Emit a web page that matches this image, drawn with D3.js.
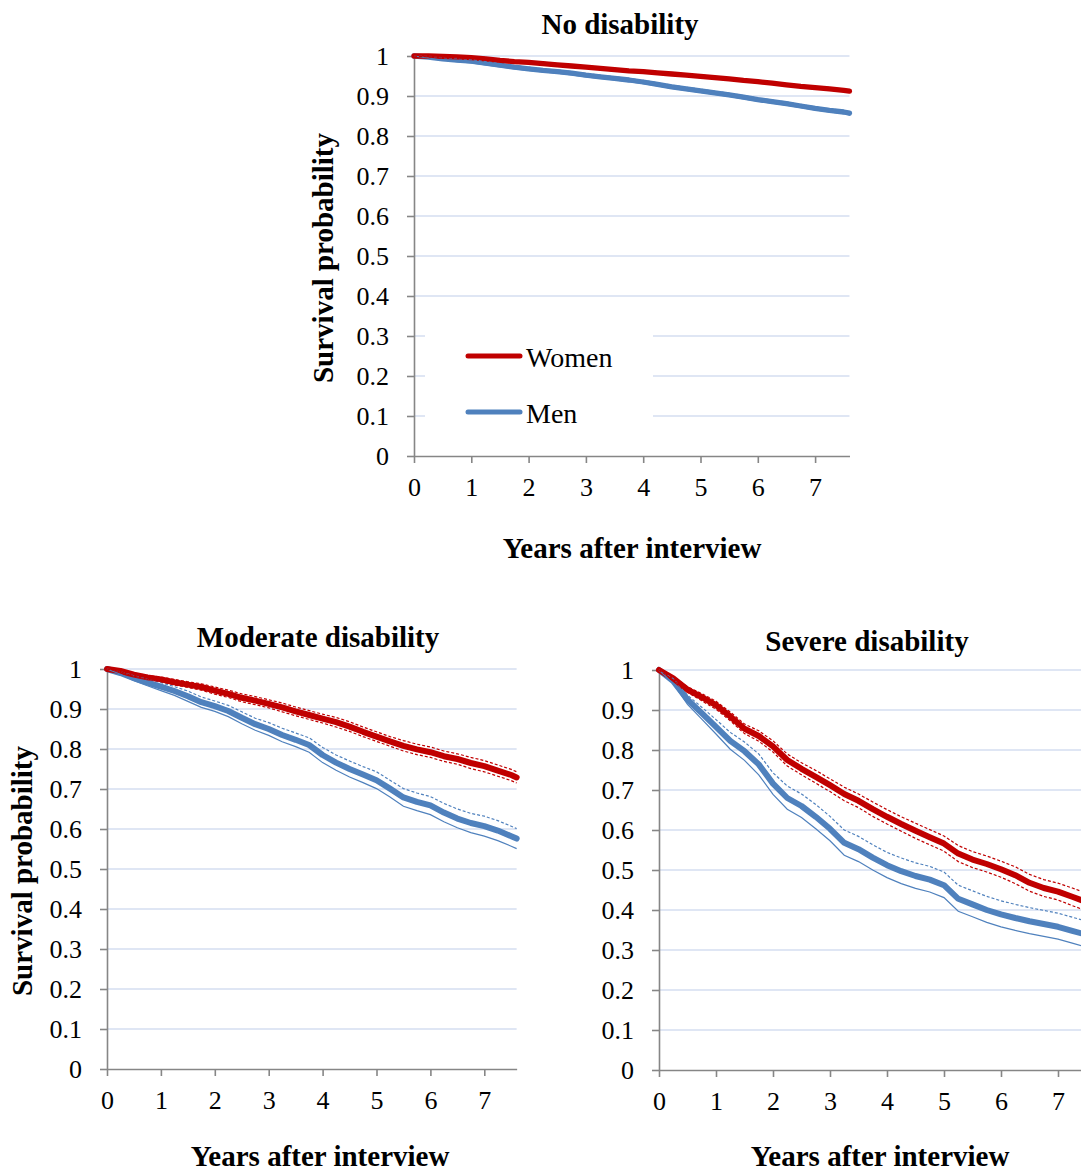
<!DOCTYPE html>
<html>
<head>
<meta charset="utf-8">
<script src="https://cdn.jsdelivr.net/npm/d3@7/dist/d3.min.js"></script>
<style>
  html, body { margin: 0; padding: 0; background: #fff; overflow: hidden; }
  svg { display: block; }
</style>
</head>
<body>
<svg id="chart" width="1081" height="1174"></svg>
<script>
// Follow-up time (years after interview) shared by every curve
const years = [0, 0.25, 0.5, 0.75, 1, 1.25, 1.5, 1.75, 2, 2.25, 2.5, 2.75, 3, 3.25, 3.5, 3.75,
               4, 4.25, 4.5, 4.75, 5, 5.25, 5.5, 5.75, 6, 6.25, 6.5, 6.75, 7, 7.25, 7.5, 7.6];

const yTicks = [0, 0.1, 0.2, 0.3, 0.4, 0.5, 0.6, 0.7, 0.8, 0.9, 1];
const yTickLabels = ["0", "0.1", "0.2", "0.3", "0.4", "0.5", "0.6", "0.7", "0.8", "0.9", "1"];
const xTicks = [0, 1, 2, 3, 4, 5, 6, 7];
const xTickLabels = ["0", "1", "2", "3", "4", "5", "6", "7"];

const seriesNames = ["Women", "Men"];

// No disability: survival estimate with lower / upper confidence bounds
const noDisWomen   = [1, 1, 0.999, 0.998, 0.996, 0.993, 0.989, 0.986, 0.984, 0.981, 0.978, 0.975, 0.972, 0.969, 0.966, 0.963, 0.961, 0.958, 0.955, 0.952, 0.949, 0.946, 0.943, 0.939, 0.936, 0.932, 0.928, 0.924, 0.921, 0.918, 0.914, 0.912];
const noDisWomenHi = [1, 1, 1, 1, 0.999, 0.996, 0.992, 0.989, 0.987, 0.984, 0.981, 0.978, 0.975, 0.972, 0.969, 0.966, 0.964, 0.961, 0.958, 0.955, 0.952, 0.949, 0.946, 0.942, 0.939, 0.935, 0.931, 0.927, 0.924, 0.921, 0.917, 0.915];
const noDisWomenLo = [1, 0.998, 0.997, 0.995, 0.993, 0.990, 0.986, 0.983, 0.981, 0.978, 0.975, 0.972, 0.969, 0.966, 0.963, 0.960, 0.958, 0.955, 0.952, 0.949, 0.946, 0.943, 0.940, 0.936, 0.933, 0.929, 0.925, 0.921, 0.918, 0.915, 0.911, 0.909];
const noDisMen     = [1, 0.997, 0.993, 0.990, 0.987, 0.982, 0.977, 0.972, 0.968, 0.964, 0.961, 0.957, 0.952, 0.948, 0.944, 0.940, 0.935, 0.929, 0.923, 0.918, 0.913, 0.908, 0.903, 0.897, 0.891, 0.886, 0.881, 0.875, 0.869, 0.864, 0.860, 0.857];
const noDisMenHi   = [1, 0.999, 0.996, 0.994, 0.991, 0.986, 0.981, 0.976, 0.972, 0.968, 0.965, 0.961, 0.956, 0.952, 0.948, 0.944, 0.939, 0.933, 0.927, 0.922, 0.917, 0.912, 0.907, 0.901, 0.895, 0.890, 0.885, 0.879, 0.873, 0.868, 0.864, 0.861];
const noDisMenLo   = [1, 0.995, 0.990, 0.986, 0.983, 0.978, 0.973, 0.968, 0.964, 0.960, 0.957, 0.953, 0.948, 0.944, 0.940, 0.936, 0.931, 0.925, 0.919, 0.914, 0.909, 0.904, 0.899, 0.893, 0.887, 0.882, 0.877, 0.871, 0.865, 0.860, 0.856, 0.853];

// Moderate disability
const modWomen   = [1, 0.995, 0.986, 0.979, 0.974, 0.967, 0.961, 0.955, 0.946, 0.938, 0.928, 0.921, 0.913, 0.904, 0.894, 0.885, 0.876, 0.867, 0.856, 0.843, 0.831, 0.819, 0.808, 0.799, 0.792, 0.782, 0.775, 0.765, 0.757, 0.746, 0.735, 0.729];
const modWomenHi = [1, 0.997, 0.990, 0.984, 0.980, 0.974, 0.968, 0.963, 0.955, 0.947, 0.938, 0.931, 0.923, 0.915, 0.905, 0.896, 0.887, 0.879, 0.868, 0.855, 0.843, 0.831, 0.821, 0.812, 0.805, 0.795, 0.788, 0.779, 0.771, 0.760, 0.749, 0.743];
const modWomenLo = [1, 0.993, 0.982, 0.974, 0.968, 0.960, 0.954, 0.947, 0.937, 0.929, 0.918, 0.911, 0.903, 0.893, 0.883, 0.874, 0.865, 0.855, 0.844, 0.831, 0.819, 0.807, 0.795, 0.786, 0.779, 0.769, 0.762, 0.751, 0.743, 0.732, 0.721, 0.715];
const modMen     = [1, 0.990, 0.977, 0.966, 0.956, 0.945, 0.932, 0.917, 0.907, 0.895, 0.878, 0.862, 0.850, 0.835, 0.823, 0.810, 0.785, 0.766, 0.750, 0.736, 0.722, 0.701, 0.679, 0.668, 0.659, 0.641, 0.626, 0.615, 0.607, 0.596, 0.582, 0.576];
const modMenHi   = [1, 0.993, 0.983, 0.974, 0.966, 0.956, 0.945, 0.930, 0.920, 0.909, 0.893, 0.877, 0.866, 0.852, 0.840, 0.828, 0.804, 0.785, 0.770, 0.756, 0.743, 0.722, 0.701, 0.690, 0.681, 0.664, 0.650, 0.639, 0.632, 0.621, 0.607, 0.601];
const modMenLo   = [1, 0.987, 0.971, 0.958, 0.946, 0.934, 0.919, 0.904, 0.894, 0.881, 0.863, 0.847, 0.834, 0.818, 0.806, 0.792, 0.766, 0.747, 0.730, 0.716, 0.701, 0.680, 0.657, 0.646, 0.636, 0.618, 0.603, 0.591, 0.582, 0.571, 0.557, 0.551];

// Severe disability
const sevWomen   = [1, 0.979, 0.951, 0.932, 0.912, 0.884, 0.853, 0.835, 0.809, 0.775, 0.753, 0.733, 0.712, 0.690, 0.673, 0.652, 0.633, 0.615, 0.598, 0.582, 0.566, 0.541, 0.526, 0.515, 0.502, 0.487, 0.468, 0.455, 0.446, 0.433, 0.420, 0.415];
const sevWomenHi = [1, 0.983, 0.958, 0.941, 0.922, 0.895, 0.865, 0.848, 0.823, 0.790, 0.768, 0.749, 0.728, 0.707, 0.690, 0.670, 0.651, 0.633, 0.617, 0.601, 0.585, 0.561, 0.546, 0.535, 0.522, 0.508, 0.489, 0.476, 0.467, 0.455, 0.442, 0.437];
const sevWomenLo = [1, 0.975, 0.944, 0.923, 0.902, 0.873, 0.841, 0.822, 0.795, 0.760, 0.738, 0.717, 0.696, 0.673, 0.656, 0.634, 0.615, 0.597, 0.579, 0.563, 0.547, 0.521, 0.506, 0.495, 0.482, 0.466, 0.447, 0.434, 0.425, 0.411, 0.398, 0.393];
const sevMen     = [1, 0.972, 0.926, 0.892, 0.858, 0.823, 0.797, 0.764, 0.716, 0.680, 0.660, 0.633, 0.603, 0.568, 0.552, 0.531, 0.512, 0.497, 0.485, 0.476, 0.462, 0.428, 0.414, 0.400, 0.389, 0.380, 0.372, 0.365, 0.358, 0.348, 0.338, 0.334];
const sevMenHi   = [1, 0.978, 0.937, 0.907, 0.876, 0.844, 0.820, 0.790, 0.743, 0.710, 0.690, 0.664, 0.634, 0.600, 0.584, 0.563, 0.544, 0.530, 0.518, 0.509, 0.495, 0.462, 0.448, 0.434, 0.423, 0.414, 0.406, 0.399, 0.392, 0.382, 0.372, 0.368];
const sevMenLo   = [1, 0.966, 0.914, 0.877, 0.840, 0.802, 0.774, 0.738, 0.689, 0.652, 0.631, 0.603, 0.573, 0.537, 0.521, 0.500, 0.481, 0.466, 0.454, 0.445, 0.431, 0.397, 0.383, 0.369, 0.358, 0.349, 0.341, 0.334, 0.327, 0.317, 0.307, 0.303];

const panelTitles = ["No disability", "Moderate disability", "Severe disability"];
const xAxisTitle = "Years after interview";
const yAxisTitle = "Survival probability";

// ---- styling & layout ----
const FONT = "'Liberation Serif', 'Times New Roman', Times, serif";
const RED = "#C00000";
const BLUE = "#4F81BD";
const AXIS = "#868686";
const GRID = "#D5DEF0";

const layout = [
  { left: 414, top: 56,  pxPerYear: 57.3, mainWidth: 5.3, titleX: 620, titleY: 34,
    xTitleX: 632, xTitleY: 558, yTitleX: 333, legend: true },
  { left: 107, top: 669, pxPerYear: 53.9, mainWidth: 6,   titleX: 318, titleY: 647,
    xTitleX: 320, xTitleY: 1166, yTitleX: 32, legend: false },
  { left: 659, top: 670, pxPerYear: 57,   mainWidth: 6,   titleX: 867, titleY: 651,
    xTitleX: 880, xTitleY: 1166, yTitleX: null, legend: false }
];

const panelData = [
  { women: noDisWomen, womenHi: noDisWomenHi, womenLo: noDisWomenLo, men: noDisMen, menHi: noDisMenHi, menLo: noDisMenLo },
  { women: modWomen,   womenHi: modWomenHi,   womenLo: modWomenLo,   men: modMen,   menHi: modMenHi,   menLo: modMenLo },
  { women: sevWomen,   womenHi: sevWomenHi,   womenLo: sevWomenLo,   men: sevMen,   menHi: sevMenHi,   menLo: sevMenLo }
];

const svg = d3.select("#chart");
const plotHeight = 400;
const xMax = years[years.length - 1];

panelData.forEach((d, p) => {
  const L = layout[p];
  const x = d3.scaleLinear().domain([0, xMax]).range([L.left, L.left + L.pxPerYear * xMax]);
  const y = d3.scaleLinear().domain([0, 1]).range([L.top + plotHeight, L.top]);
  const g = svg.append("g");

  // horizontal gridlines
  g.append("g").selectAll("line")
    .data(yTicks.filter(v => v > 0))
    .join("line")
    .attr("x1", x(0)).attr("x2", x(xMax))
    .attr("y1", v => y(v)).attr("y2", v => y(v))
    .attr("stroke", GRID).attr("stroke-width", 1.3);

  // legend box sits over the gridlines
  if (L.legend) {
    g.append("rect")
      .attr("x", 425).attr("y", 318).attr("width", 228).attr("height", 128)
      .attr("fill", "#fff");
    const items = [{ name: seriesNames[0], color: RED, y: 356 }, { name: seriesNames[1], color: BLUE, y: 412 }];
    items.forEach(it => {
      g.append("line")
        .attr("x1", 468).attr("x2", 520).attr("y1", it.y).attr("y2", it.y)
        .attr("stroke", it.color).attr("stroke-width", 5).attr("stroke-linecap", "round");
      g.append("text")
        .attr("x", 526).attr("y", it.y + 11)
        .attr("font-family", FONT).attr("font-size", 28).attr("fill", "#000")
        .text(it.name);
    });
  }

  // axes
  const yAxis = d3.axisLeft(y).tickValues(yTicks)
    .tickFormat((v, i) => yTickLabels[i]).tickSize(7).tickSizeOuter(0).tickPadding(18);
  const xAxis = d3.axisBottom(x).tickValues(xTicks)
    .tickFormat((v, i) => xTickLabels[i]).tickSize(7).tickSizeOuter(0).tickPadding(15);

  const ya = g.append("g").attr("transform", `translate(${x(0)},0)`).call(yAxis);
  const xa = g.append("g").attr("transform", `translate(0,${y(0)})`).call(xAxis);
  [ya, xa].forEach(a => {
    a.select(".domain").attr("stroke", AXIS).attr("stroke-width", 1.6);
    a.selectAll(".tick line").attr("stroke", AXIS).attr("stroke-width", 1.6);
    a.selectAll(".tick text").attr("font-family", FONT).attr("font-size", 26).attr("fill", "#000");
  });

  const line = d3.line().x((v, i) => x(years[i])).y(v => y(v)).curve(d3.curveLinear);

  // survival estimates (thick)
  g.append("path").attr("d", line(d.men)).attr("fill", "none")
    .attr("stroke", BLUE).attr("stroke-width", L.mainWidth)
    .attr("stroke-linecap", "round").attr("stroke-linejoin", "round");
  g.append("path").attr("d", line(d.women)).attr("fill", "none")
    .attr("stroke", RED).attr("stroke-width", L.mainWidth)
    .attr("stroke-linecap", "round").attr("stroke-linejoin", "round");

  // confidence bounds (thin)
  const bounds = [
    { values: d.menHi,   color: BLUE, dash: "3,2" },
    { values: d.menLo,   color: BLUE, dash: null },
    { values: d.womenHi, color: RED,  dash: "3,2" },
    { values: d.womenLo, color: RED,  dash: "3,2" }
  ];
  bounds.forEach(b => {
    g.append("path").attr("d", line(b.values)).attr("fill", "none")
      .attr("stroke", b.color).attr("stroke-width", 1.2)
      .attr("stroke-dasharray", b.dash);
  });

  // titles
  g.append("text")
    .attr("x", L.titleX).attr("y", L.titleY).attr("text-anchor", "middle")
    .attr("font-family", FONT).attr("font-size", 29).attr("font-weight", "bold")
    .text(panelTitles[p]);
  g.append("text")
    .attr("x", L.xTitleX).attr("y", L.xTitleY).attr("text-anchor", "middle")
    .attr("font-family", FONT).attr("font-size", 29).attr("font-weight", "bold")
    .text(xAxisTitle);
  if (L.yTitleX !== null) {
    const cy = L.top + plotHeight * 0.505;
    g.append("text")
      .attr("transform", `translate(${L.yTitleX},${cy}) rotate(-90)`)
      .attr("text-anchor", "middle")
      .attr("font-family", FONT).attr("font-size", 29).attr("font-weight", "bold")
      .text(yAxisTitle);
  }
});
</script>
</body>
</html>
